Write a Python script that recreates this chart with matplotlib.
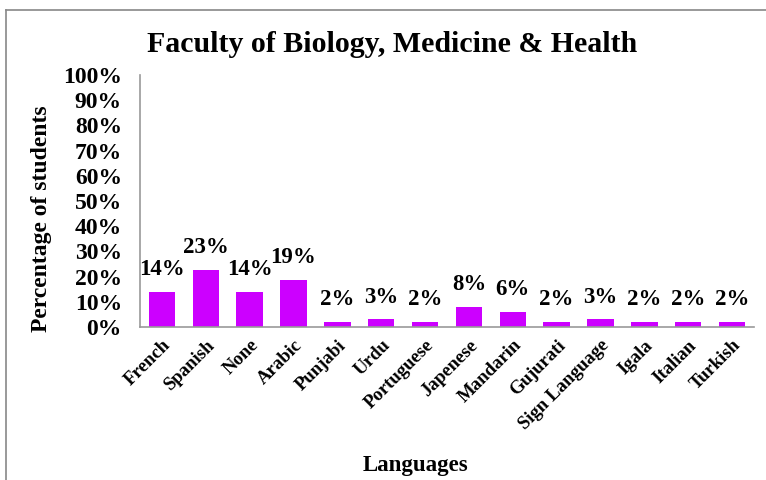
import matplotlib.pyplot as plt
from matplotlib.lines import Line2D

languages = ["French", "Spanish", "None", "Arabic", "Punjabi", "Urdu", "Portuguese",
             "Japenese", "Mandarin", "Gujurati", "Sign Language", "Igala", "Italian", "Turkish"]
share = [14.0, 22.6, 14.0, 18.7, 2.0, 3.0, 2.0, 8.0, 6.0, 2.0, 3.0, 2.0, 2.0, 2.0]
share_labels = ["14%", "23%", "14%", "19%", "2%", "3%", "2%", "8%", "6%", "2%", "3%", "2%", "2%", "2%"]

plt.rcParams["font.family"] = ["Liberation Serif", "DejaVu Serif"]
plt.rcParams["font.weight"] = "bold"

W, H = 766, 480
fig = plt.figure(figsize=(W / 100, H / 100), dpi=100)
ax = fig.add_axes([140 / W, 1 - 327 / H, 614 / W, 252 / H])

x = range(len(languages))
ax.bar(x, share, width=0.6, color="#CC00FF")
for xi, v, lab in zip(x, share, share_labels):
    ax.annotate(lab, (xi, v), xytext=(0, 8.5), textcoords="offset points",
                ha="center", va="bottom", fontsize=16.5, fontweight="bold")

ax.set_xlim(-0.5, len(languages) - 0.5)
ax.set_ylim(0, 100)
ax.set_yticks(range(0, 101, 10))
ax.set_yticklabels([f"{t}%" for t in range(0, 101, 10)], fontsize=17, fontweight="bold")
ax.set_xticks(list(x))
ax.set_xticklabels(languages, rotation=45, ha="right", rotation_mode="anchor",
                   fontsize=13.5, fontweight="bold")
ax.tick_params(axis="both", length=0, pad=7)
ax.tick_params(axis="y", pad=13)

for side in ["top", "right"]:
    ax.spines[side].set_visible(False)
for side in ["left", "bottom"]:
    ax.spines[side].set_color("#999999")
    ax.spines[side].set_linewidth(1.2)

fig.text(42 / W, 1 - 219 / H, "Percentage of students", rotation=90, ha="center", va="center",
         fontsize=17, fontweight="bold")
fig.text(415 / W, 1 - 465 / H, "Languages", ha="center", va="center", fontsize=16.5, fontweight="bold")
fig.text(392 / W, 1 - 45 / H, "Faculty of Biology, Medicine & Health", ha="center", va="center",
         fontsize=21.5, fontweight="bold")

# outer frame of the chart area (cropped at right and bottom)
fig.add_artist(Line2D([6 / W, 6 / W], [0, 1 - 10 / H], transform=fig.transFigure, color="#888888", lw=1.2))
fig.add_artist(Line2D([6 / W, 1], [1 - 10 / H, 1 - 10 / H], transform=fig.transFigure, color="#888888", lw=1.2))

fig.savefig("out.png", dpi=100, facecolor="white")
